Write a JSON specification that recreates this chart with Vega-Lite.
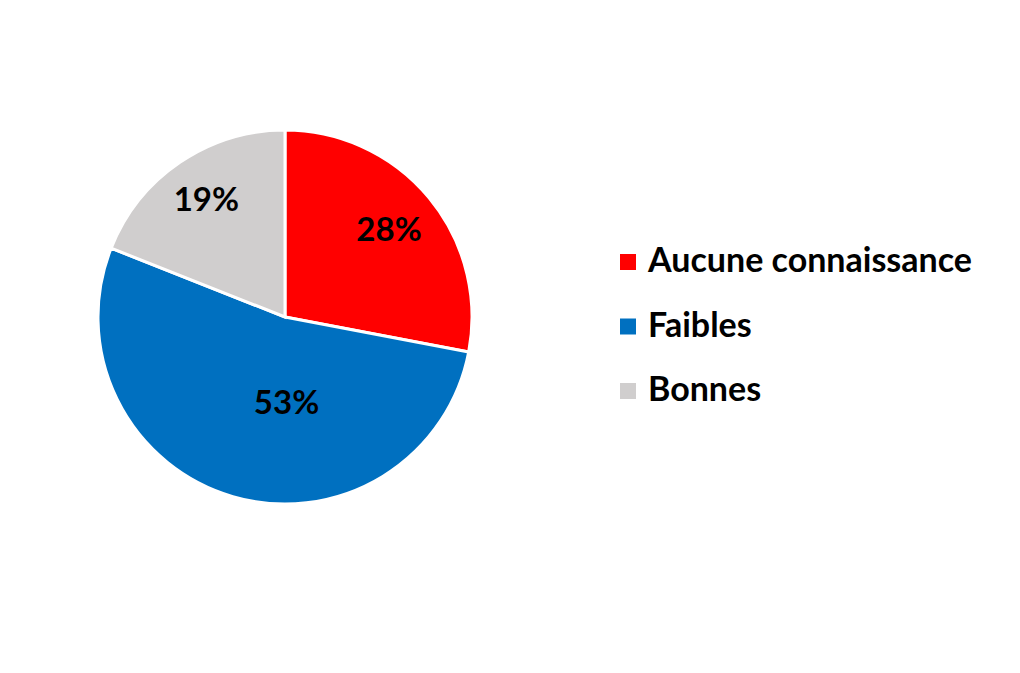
{
  "$schema": "https://vega.github.io/schema/vega-lite/v6.json",
  "width": 570,
  "height": 634,
  "padding": {"left": 0, "top": 0, "right": 450, "bottom": 39},
  "autosize": "none",
  "background": "white",
  "config": {"view": {"stroke": null}, "font": "Lato"},
  "data": {"values": [
    {"category": "Aucune connaissance", "value": 28, "label": "28%", "order": 1},
    {"category": "Faibles", "value": 53, "label": "53%", "order": 2},
    {"category": "Bonnes", "value": 19, "label": "19%", "order": 3}
  ]},
  "transform": [
    {"stack": "value", "groupby": [], "sort": [{"field": "order"}], "as": ["v0", "v1"]},
    {"calculate": "(datum.v0 + datum.v1) / 2", "as": "mid"}
  ],
  "layer": [
    {
      "mark": {"type": "arc", "outerRadius": 187, "stroke": "white", "strokeWidth": 3},
      "encoding": {
        "theta": {"field": "v0", "type": "quantitative", "scale": {"domain": [0, 100]}},
        "theta2": {"field": "v1"},
        "color": {
          "field": "category", "type": "nominal",
          "scale": {"domain": ["Aucune connaissance", "Faibles", "Bonnes"], "range": ["#FF0000", "#0070C0", "#D0CECE"]},
          "legend": {
            "title": null, "orient": "none", "legendX": 611, "legendY": 245,
            "symbolType": "square", "symbolSize": 256, "symbolStrokeWidth": 0,
            "labelFont": "Lato", "labelFontSize": 34, "labelFontWeight": "bold", "labelColor": "black",
            "labelOffset": 3, "rowPadding": 30.5, "labelLimit": 500
          }
        },
        "order": {"field": "order"}
      }
    },
    {
      "transform": [{"filter": "datum.category == 'Aucune connaissance'"}],
      "mark": {"type": "text", "radius": 135, "font": "Lato", "fontSize": 33, "fontWeight": "bold", "color": "black"},
      "encoding": {
        "theta": {"field": "mid", "type": "quantitative"},
        "text": {"field": "label"}
      }
    },
    {
      "transform": [{"filter": "datum.category == 'Faibles'"}],
      "mark": {"type": "text", "radius": 87, "thetaOffset": -0.3, "font": "Lato", "fontSize": 33, "fontWeight": "bold", "color": "black"},
      "encoding": {
        "theta": {"field": "mid", "type": "quantitative"},
        "text": {"field": "label"}
      }
    },
    {
      "transform": [{"filter": "datum.category == 'Bonnes'"}],
      "mark": {"type": "text", "radius": 140, "font": "Lato", "fontSize": 33, "fontWeight": "bold", "color": "black"},
      "encoding": {
        "theta": {"field": "mid", "type": "quantitative"},
        "text": {"field": "label"}
      }
    }
  ]
}
